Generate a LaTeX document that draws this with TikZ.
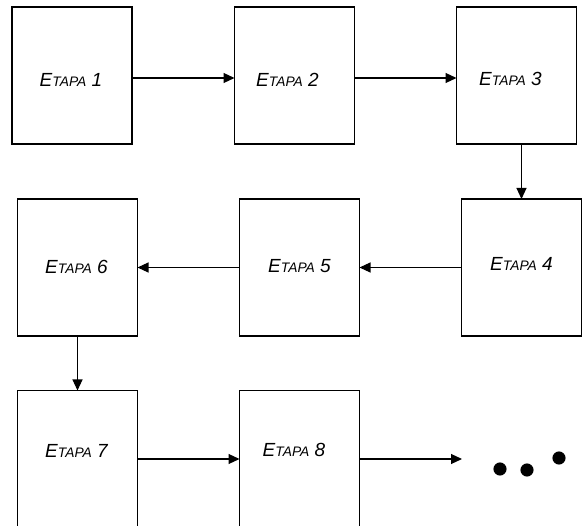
\documentclass[tikz,border=0pt]{standalone}
\usepackage{fontspec}
\setmainfont{Liberation Sans}
\usetikzlibrary{arrows.meta}
\newcommand{\etapa}[1]{{\itshape\fontsize{19}{20}\selectfont E{\fontsize{13.8}{14}\selectfont TAPA} #1}}
\begin{document}
\begin{tikzpicture}[x=1pt,y=-1pt,inner sep=0pt,outer sep=0pt,line width=1.1pt,
>={Triangle[length=11pt,width=10pt]},
stage/.style={draw,rectangle,minimum width=120pt,minimum height=137pt,line width=1.1pt},
blob/.style={draw,circle,fill,minimum size=12pt}]
\useasboundingbox (0,0) rectangle (582,526);
% first row
\draw (72,75.5) node[stage,label={[xshift=-1pt,yshift=-4pt]center:\etapa{1}}] (e1) {};
\draw (294.5,75.5) node[stage,label={[xshift=-7pt,yshift=-4pt]center:\etapa{2}}] (e2) {};
\draw (516.5,75.5) node[stage,label={[xshift=-6pt,yshift=-3pt]center:\etapa{3}}] (e3) {};
% second row
\draw (521.5,267.5) node[stage,label={[yshift=4pt]center:\etapa{4}}] (e4) {};
\draw (299.5,267.5) node[stage,label={[yshift=1.5pt]center:\etapa{5}}] (e5) {};
\draw (77.5,267.5) node[stage,label={[xshift=-1pt,yshift=1pt]center:\etapa{6}}] (e6) {};
% third row
\draw (77.5,459) node[stage,label={[xshift=-1pt,yshift=8.5pt]center:\etapa{7}}] (e7) {};
\draw (299.5,459) node[stage,label={[xshift=-5.5pt,yshift=9pt]center:\etapa{8}}] (e8) {};
\coordinate (more) at (462,459);
\draw (500,469) node[blob] (dot1) {};
\draw (527,470) node[blob] (dot2) {};
\draw (559,458) node[blob] (dot3) {};
% connectors
\draw[->] ([yshift=-2.5pt]e1.east) -- ([yshift=-2.5pt]e2.west);
\draw[->] ([yshift=-2.5pt]e2.east) -- ([yshift=-2.5pt]e3.west);
\draw[->] (e3.south -| e4.north) -- (e4.north);
\draw[->] (e4.west) -- (e5.east);
\draw[->] (e5.west) -- (e6.east);
\draw[->] (e6.south) -- (e7.north);
\draw[->] (e7.east) -- (e8.west);
\draw[->] (e8.east) -- (more);
\end{tikzpicture}
\end{document}
